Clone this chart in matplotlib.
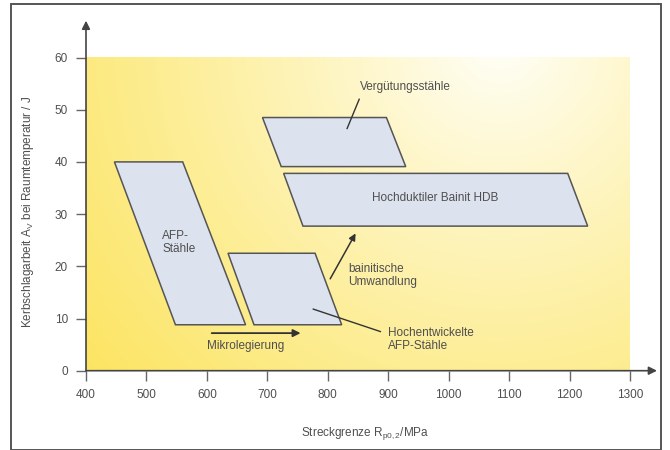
import numpy as np
import matplotlib
matplotlib.use("Agg")
import matplotlib.pyplot as plt
from matplotlib.patches import Polygon, Rectangle

plt.rcParams['font.family'] = ['Liberation Sans', 'DejaVu Sans']
plt.rcParams['mathtext.fontset'] = 'custom'
plt.rcParams['mathtext.rm'] = 'Liberation Sans'
plt.rcParams['mathtext.it'] = 'Liberation Sans'

# ---- data ----
x_ticks = [400, 500, 600, 700, 800, 900, 1000, 1100, 1200, 1300]
y_ticks = [0, 10, 20, 30, 40, 50, 60]

afp_x = [447, 560, 664, 548]
afp_y = [40, 40, 8.8, 8.8]
hoch_x = [635, 779, 823, 678]
hoch_y = [22.5, 22.5, 8.8, 8.8]
verg_x = [692, 897, 929, 723]
verg_y = [48.5, 48.5, 39.1, 39.1]
hdb_x = [727, 1197, 1230, 759]
hdb_y = [37.8, 37.8, 27.7, 27.7]

TXT = '#4f4f4f'
LINE = '#555555'

fig = plt.figure(figsize=(6.7, 4.5), dpi=100)
ax = fig.add_axes([86/670, (450-370.7)/450, (657-86)/670, 350/450])
ax.set_xlim(400, 1344.7)
ax.set_ylim(0, 67.05)

# gradient background
nx, ny = 400, 300
gx = np.linspace(400, 1300, nx)
gy = np.linspace(0, 60, ny)
GX, GY = np.meshgrid(gx, gy)
px = 86 + (GX - 400) * 0.6044
py = 370.7 - GY * 5.22
cx, cy = 500, 40
d = np.sqrt((px - cx) ** 2 + (py - cy) ** 2)
t = np.clip(d / 540, 0, 1) ** 0.9
white = np.array([255, 255, 250]) / 255
yellow = np.array([252, 228, 95]) / 255
img = white[None, None, :] * (1 - t[..., None]) + yellow[None, None, :] * t[..., None]
ax.imshow(img, extent=[400, 1300, 0, 60], origin='lower', aspect='auto', zorder=0,
          interpolation='bilinear')

for xs, ys in [(afp_x, afp_y), (hoch_x, hoch_y), (verg_x, verg_y), (hdb_x, hdb_y)]:
    ax.add_patch(Polygon(list(zip(xs, ys)), closed=True, facecolor='#dde2ef',
                         edgecolor=LINE, lw=1.1, zorder=2))

# axes with arrows
for s in ax.spines.values():
    s.set_visible(False)
ax.annotate('', xy=(1344.7, 0), xytext=(400, 0), annotation_clip=False,
            arrowprops=dict(arrowstyle='-|>', color='#444444', lw=1.2, mutation_scale=12,
                            shrinkA=0, shrinkB=0), zorder=3)
ax.annotate('', xy=(400, 67.05), xytext=(400, 0), annotation_clip=False,
            arrowprops=dict(arrowstyle='-|>', color='#444444', lw=1.2, mutation_scale=12,
                            shrinkA=0, shrinkB=0), zorder=3)

ax.set_xticks(x_ticks)
ax.set_yticks(y_ticks)
ax.tick_params(axis='both', direction='out', length=7.5, width=1, color='#666666',
               labelsize=8.5, labelcolor=TXT)
ax.tick_params(axis='x', pad=6)
ax.tick_params(axis='y', pad=5.5)

# labels
fig.text(365/670, 1 - 433/450, r'Streckgrenze R$_{\mathrm{p0,2}}$/MPa', ha='center', va='center',
         fontsize=8.5, color=TXT)
fig.text(28/670, 1 - 212/450, r'Kerbschlagarbeit A$_{\mathrm{V}}$ bei Raumtemperatur / J',
         ha='center', va='center', rotation=90, fontsize=8.5, color=TXT)

# annotations
ax.text(526, 24.5, 'AFP-\nStähle', ha='left', va='center', fontsize=8.5, color=TXT,
        linespacing=1.1, zorder=4)
ax.text(977, 33, 'Hochduktiler Bainit HDB', ha='center', va='center', fontsize=8.5,
        color=TXT, zorder=4)
ax.text(853, 54.3, 'Vergütungsstähle', ha='left', va='center', fontsize=8.5, color=TXT, zorder=4)
ax.plot([832, 852], [46.4, 52], color='#333333', lw=1, zorder=4)
ax.text(834, 18.2, 'bainitische\nUmwandlung', ha='left', va='center', fontsize=8.5,
        color=TXT, linespacing=1.1, zorder=4)
ax.annotate('', xy=(846, 26.3), xytext=(804, 17.6),
            arrowprops=dict(arrowstyle='-|>', color='#333333', lw=1.1, mutation_scale=10,
                            shrinkA=0, shrinkB=0), zorder=4)
ax.text(900, 6.0, 'Hochentwickelte\nAFP-Stähle', ha='left', va='center', fontsize=8.5,
        color=TXT, linespacing=1.1, zorder=4)
ax.plot([776, 887], [11.8, 7.5], color='#333333', lw=1, zorder=4)
ax.annotate('', xy=(755, 7.2), xytext=(608, 7.2),
            arrowprops=dict(arrowstyle='-|>', color='#333333', lw=1.3, mutation_scale=11,
                            shrinkA=0, shrinkB=0), zorder=4)
ax.text(601, 4.8, 'Mikrolegierung', ha='left', va='center', fontsize=8.5, color=TXT, zorder=4)

# outer frame
fig.add_artist(Rectangle((11/670, 0.5/450), 650/670, 446/450, transform=fig.transFigure,
                         fill=False, edgecolor='#555555', lw=1.4))

fig.savefig('out.png', dpi=100)
